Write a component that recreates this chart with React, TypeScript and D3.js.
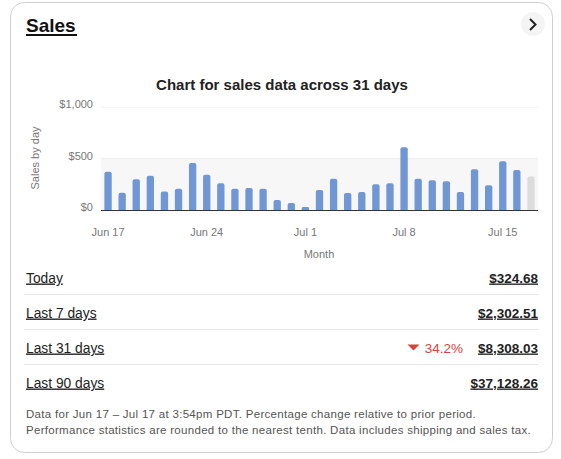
import * as d3 from 'd3';

// daily sales, Jun 17 – Jul 17 (last day = today, still in progress)
const salesByDay = [
  373, 169, 299, 334, 179, 208, 458, 344, 260, 208, 214, 208, 97, 68, 29, 195,
  305, 166, 175, 250, 260, 610, 305, 289, 279, 175, 396, 240, 474, 390, 325,
];
const startDate = new Date(2024, 5, 17);
const days = d3.timeDays(startDate, d3.timeDay.offset(startDate, salesByDay.length));
const tickLabels = ['Jun 17', 'Jun 24', 'Jul 1', 'Jul 8', 'Jul 15'];
const yTicks = [0, 500, 1000];

const summaryLabels = ['Today', 'Last 7 days', 'Last 31 days', 'Last 90 days'];
const summaryValues = ['$324.68', '$2,302.51', '$8,308.03', '$37,128.26'];
const summaryChange = ['', '', '-34.2%', ''];

const fmtDay = d3.timeFormat('%b %-d');

const W = 561;
const H = 459;
const margin = { left: 101, right: 23 };

const App = () => {
  const x = d3
    .scaleBand<number>()
    .domain(days.map((_, i) => i))
    .range([margin.left, W - margin.right])
    .paddingInner(0.48)
    .paddingOuter(0.24);

  const y = d3.scaleLinear().domain([0, 1000]).range([210, 107.3]);

  // bar with rounded top corners
  const barPath = (i: number, v: number) => {
    const x0 = x(i)!;
    const w = x.bandwidth();
    const y0 = y(0);
    const y1 = y(v);
    const r = Math.min(2, (y0 - y1) / 2);
    const p = d3.path();
    p.moveTo(x0, y0);
    p.lineTo(x0, y1 + r);
    p.quadraticCurveTo(x0, y1, x0 + r, y1);
    p.lineTo(x0 + w - r, y1);
    p.quadraticCurveTo(x0 + w, y1, x0 + w, y1 + r);
    p.lineTo(x0 + w, y0);
    p.closePath();
    return p.toString();
  };

  const font = '"Liberation Sans", Arial, sans-serif';
  const rowY = d3.scaleLinear().domain([0, 1]).range([277.5, 312.5]);

  return (
    <svg
      width={W}
      height={H}
      style={{ position: 'absolute', left: 0, top: 0, fontFamily: font }}
    >
      <rect x={0} y={0} width={W} height={H} fill="#fff" />
      <rect x={10.5} y={2.5} width={542} height={450} rx={14} fill="#fff" stroke="#cfcfcf" />

      {/* header */}
      <text x={26} y={32} fontSize={19} fontWeight="bold" fill="#111">Sales</text>
      <rect x={26} y={34} width={51} height={2} fill="#111" />
      <circle cx={533} cy={24} r={12} fill="#f4f4f4" />
      <path d="M530,19 L535.5,24.5 L530,30" fill="none" stroke="#222" strokeWidth={2} />

      {/* chart */}
      <text x={282} y={89.5} textAnchor="middle" fontSize={15} fontWeight="bold" fill="#222">
        Chart for sales data across 31 days
      </text>
      <rect x={margin.left} y={y(500)} width={W - margin.right - margin.left} height={y(0) - y(500)} fill="#f7f7f7" />
      {yTicks.map((t) => (
        <g key={t}>
          {t > 0 && (
            <line x1={margin.left} x2={W - margin.right} y1={y(t)} y2={y(t)} stroke={t === 500 ? '#ececec' : '#f3f3f3'} />
          )}
          <text x={93} y={y(t) + 1} textAnchor="end" fontSize={11} fill="#777">
            {d3.format('$,')(t)}
          </text>
        </g>
      ))}
      {salesByDay.map((v, i) => (
        <path key={i} d={barPath(i, v)} fill={i === salesByDay.length - 1 ? '#dcdcdc' : '#7097d4'} />
      ))}
      <line x1={margin.left} x2={W - margin.right} y1={y(0) + 0.5} y2={y(0) + 0.5} stroke="#333" />
      {days.map((d, i) =>
        tickLabels.includes(fmtDay(d)) ? (
          <text key={i} x={x(i)! + x.bandwidth() / 2} y={236} textAnchor="middle" fontSize={11} fill="#777">
            {fmtDay(d)}
          </text>
        ) : null
      )}
      <text x={319} y={258} textAnchor="middle" fontSize={11} fill="#777">Month</text>
      <text transform="translate(39,158) rotate(-90)" textAnchor="middle" fontSize={11} fill="#777">
        Sales by day
      </text>

      {/* summary rows */}
      {summaryLabels.map((label, i) => {
        const cy = rowY(i);
        const change = summaryChange[i];
        return (
          <g key={label}>
            <text x={26} y={cy + 5} fontSize={13.8} fill="#222" textDecoration="underline">{label}</text>
            <text x={538} y={cy + 5} fontSize={13.5} fontWeight="bold" fill="#222" textAnchor="end" textDecoration="underline">
              {summaryValues[i]}
            </text>
            {change && (
              <g>
                <text x={463} y={cy + 5} fontSize={13.5} fill="#d5453b" textAnchor="end">
                  {change.replace('-', '')}
                </text>
                <path d={`M407.5,${cy - 3} L419.5,${cy - 3} L413.5,${cy + 3} Z`} fill="#d5453b" />
              </g>
            )}
            {i < summaryLabels.length - 1 && (
              <line x1={24} x2={538} y1={cy + 17} y2={cy + 17} stroke="#e6e6e6" />
            )}
          </g>
        );
      })}

      {/* footnote */}
      <g fontSize={11.5} fill="#555" letterSpacing={0.3}>
        <text x={26} y={418}>
          Data for Jun 17 – Jul 17 at 3:54pm PDT. Percentage change relative to prior period.
        </text>
        <text x={26} y={434}>
          Performance statistics are rounded to the nearest tenth. Data includes shipping and sales tax.
        </text>
      </g>
    </svg>
  );
};

export default App;
